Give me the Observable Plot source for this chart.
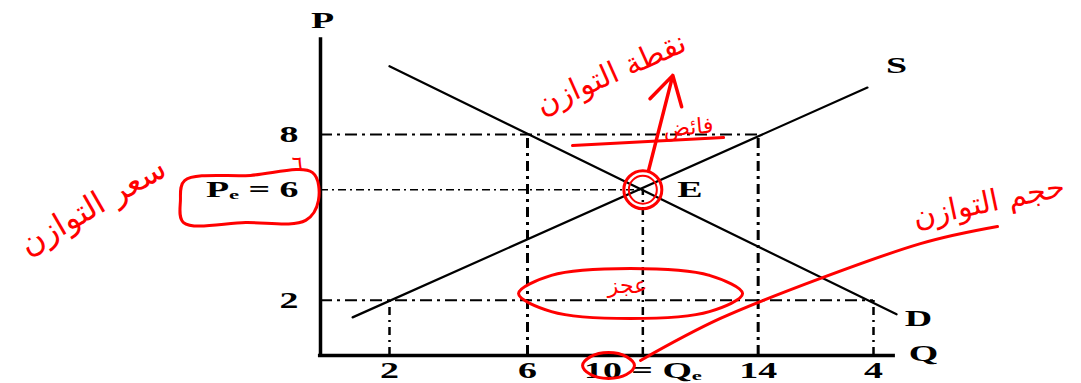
<!DOCTYPE html>
<html><head><meta charset="utf-8">
<script src="https://cdn.jsdelivr.net/npm/d3@7"></script>
<script src="https://cdn.jsdelivr.net/npm/@observablehq/plot@0.6"></script>
<style>body{margin:0;background:#fff} svg{display:block}</style>
</head><body><div id="chart"></div>
<script>
// ---- data (Q = quantity, P = price) ----
const qTicks = [2, 6, 10, 14, 18];
const qTickLabels = ["2", "6", "10 = Qₑ", "14", "4"];
const pTicks = [8, 6, 2];
const pTickLabels = ["8", "Pₑ = 6", "2"];
const supplyQ = [0.93, 17.79];
const supplyP = [1.38, 9.70];
const demandQ = [2, 18.8];
const demandP = [10.47, 1.49];
const axisQMax = 18.76;
const axisPMax = 11.5;
const hGuideP = [8, 6, 2];
const hGuideQEnd = [14, 10, 18];
const vGuideQ = [6, 14, 10, 2, 18];
const vGuidePTop = [8, 8, 6, 2, 2];
const eqQ = 10, eqP = 6;

// ---- red hand annotations (in Q,P units) ----
const boxQ = [-3.94, -2.03, -0.23, -0.06, -0.43, -2.17, -3.97, -4.06];
const boxP = [6.33, 6.52, 6.62, 5.61, 4.89, 4.81, 4.81, 5.61];
const shortQ = [13.46, 12.31, 9.57, 6.83, 5.74, 6.83, 9.57, 12.31];
const shortP = [2.24, 2.90, 3.15, 2.90, 2.24, 1.59, 1.34, 1.59];
const ringQ = [9.71, 9.43, 8.81, 8.19, 7.91, 8.19, 8.81, 9.43];
const ringP = [-0.36, -0.04, 0.11, -0.04, -0.36, -0.69, -0.83, -0.69];
const swooshQ = [9.92, 12.69, 16.16, 19.63, 22.30];
const swooshP = [-0.18, 1.34, 2.79, 4.05, 4.67];
const strikeQ = [7.56, 12.8];
const strikeP = [7.6, 7.89];
const arrowFrom = [10.2, 6.7], arrowTo = [11.04, 10.14];
const noteTexts = ["سعر التوازن", "نقطة التوازن", "فائض", "عجز", "حجم التوازن", "٦"];
const noteQ = [-6.6, 8.9, 11.58, 9.47, 22.0, -0.67];
const noteP = [5.4, 10.2, 8.25, 2.53, 5.55, 6.95];
const noteRotate = [-30, -24, -5, 0, -12, 0];
const noteSize = [32, 30, 22, 22, 30, 22];

const pts = (qs, ps) => qs.map((q, i) => ({q, p: ps[i]}));
const RED = "#f00";
const LBL = {fontSize: 23, fontWeight: "bold", fill: "black", className: "lbl"};

const plot = Plot.plot({
  width: 1081, height: 383,
  x: {type: "linear", domain: [0, 6, 18], range: [320, 527, 873], axis: null},
  y: {type: "linear", domain: [0, 8], range: [355, 134], axis: null},
  style: {fontFamily: "'Liberation Serif', serif", background: "white", overflow: "visible"},
  marks: [
    // guide lines
    Plot.ruleY([0], {y: hGuideP[0], x1: 0, x2: hGuideQEnd[0], stroke: "black", strokeWidth: 2, strokeDasharray: "12,5,3,5"}),
    Plot.ruleY([0], {y: hGuideP[1], x1: 0, x2: hGuideQEnd[1], stroke: "black", strokeWidth: 1.3, strokeDasharray: "8,4,2,4"}),
    Plot.ruleY([0], {y: hGuideP[2], x1: 0, x2: hGuideQEnd[2], stroke: "black", strokeWidth: 2, strokeDasharray: "12,5,3,5"}),
    Plot.ruleX(pts(vGuideQ, vGuidePTop).slice(0, 2), {x: "q", y1: 0, y2: "p", stroke: "black", strokeWidth: 3, strokeDasharray: "10,5,3,5"}),
    Plot.ruleX(pts(vGuideQ, vGuidePTop).slice(2), {x: "q", y1: 0, y2: "p", stroke: "black", strokeWidth: 2.5, strokeDasharray: "8,5,2,5"}),
    // curves
    Plot.line(pts(supplyQ, supplyP), {x: "q", y: "p", stroke: "black", strokeWidth: 2.2}),
    Plot.line(pts(demandQ, demandP), {x: "q", y: "p", stroke: "black", strokeWidth: 2.2}),
    // axes
    Plot.ruleX([0], {y1: 0, y2: axisPMax, stroke: "black", strokeWidth: 3.5}),
    Plot.ruleY([0], {x1: -0.06, x2: axisQMax, stroke: "black", strokeWidth: 3.5}),
    // tick labels
    Plot.text(pts(qTicks, qTicks.map(() => 0)), {x: "q", y: "p", dy: 15, text: (d, i) => qTickLabels[i], ...LBL}),
    Plot.text(pts(pTicks.map(() => 0), pTicks), {x: "q", y: "p", dx: -22, text: (d, i) => pTickLabels[i], textAnchor: "end", ...LBL}),
    // axis / curve names
    Plot.text([{q: 0, p: axisPMax, t: "P"}], {x: "q", y: "p", dx: 2, dy: -17, text: "t", ...LBL}),
    Plot.text([{q: axisQMax, p: 0, t: "Q"}], {x: "q", y: "p", dx: 28, dy: -2, text: "t", ...LBL}),
    Plot.text([{q: supplyQ[1], p: supplyP[1], t: "S"}], {x: "q", y: "p", dx: 29, dy: -22, text: "t", ...LBL}),
    Plot.text([{q: demandQ[1], p: demandP[1], t: "D"}], {x: "q", y: "p", dx: 22, dy: 4, text: "t", ...LBL}),
    Plot.text([{q: eqQ, p: eqP, t: "E"}], {x: "q", y: "p", dx: 47, dy: 0, text: "t", ...LBL}),
    // red hand annotations
    Plot.line(pts(boxQ, boxP), {x: "q", y: "p", curve: "catmull-rom-closed", stroke: RED, strokeWidth: 3}),
    Plot.line(pts(shortQ, shortP), {x: "q", y: "p", curve: "catmull-rom-closed", stroke: RED, strokeWidth: 3}),
    Plot.line(pts(ringQ, ringP), {x: "q", y: "p", curve: "catmull-rom-closed", stroke: RED, strokeWidth: 3}),
    Plot.line(pts(swooshQ, swooshP), {x: "q", y: "p", curve: "natural", stroke: RED, strokeWidth: 3}),
    Plot.line(pts(strikeQ, strikeP), {x: "q", y: "p", stroke: RED, strokeWidth: 3}),
    Plot.dot([0], {x: eqQ, y: eqP, r: 19, stroke: RED, strokeWidth: 3, fill: "none"}),
    Plot.dot([0], {x: eqQ, y: eqP, r: 14, stroke: RED, strokeWidth: 2, fill: "none"}),
    Plot.arrow([0], {x1: arrowFrom[0], y1: arrowFrom[1], x2: arrowTo[0], y2: arrowTo[1], stroke: RED, strokeWidth: 3.5, headLength: 14}),
    Plot.text(noteTexts, {x: (d, i) => noteQ[i], y: (d, i) => noteP[i], text: d => d, rotate: (d, i) => noteRotate[i], fill: RED, fontSize: (d, i) => noteSize[i], fontFamily: "'DejaVu Sans', sans-serif"})
  ]
});
// the reference lettering is stretched horizontally
d3.select(plot).selectAll(".lbl text").each(function () {
  const t = this.getAttribute("transform");
  if (t) this.setAttribute("transform", t + " scale(1.65,1)");
});
document.getElementById("chart").appendChild(plot);
</script>
</body></html>
